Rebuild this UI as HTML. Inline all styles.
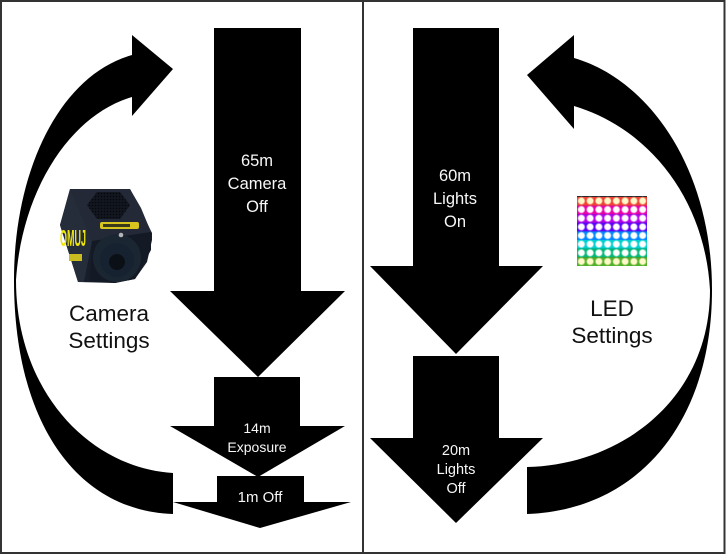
<!DOCTYPE html>
<html>
<head>
<meta charset="utf-8">
<style>
html,body{margin:0;padding:0;background:#fff;width:726px;height:555px;overflow:hidden}
svg{display:block}
text{font-family:"Liberation Sans",sans-serif;text-anchor:middle}
.w{fill:#f7f7f7}
.k{fill:#111;font-size:22.5px}
</style>
</head>
<body>
<svg width="726" height="555" viewBox="0 0 726 555" xmlns="http://www.w3.org/2000/svg">
<defs>
<radialGradient id="glow"><stop offset="0" stop-color="#fff"/><stop offset=".62" stop-color="#fff"/><stop offset=".85" stop-color="#fff" stop-opacity=".3"/><stop offset="1" stop-color="#fff" stop-opacity="0"/></radialGradient>
<pattern id="dots" x="577" y="196.600" width="8.750" height="8.650" patternUnits="userSpaceOnUse">
<circle cx="4.375" cy="4.325" r="4.300" fill="url(#glow)"/>
</pattern>
<pattern id="holes" x="88" y="192" width="3" height="3" patternUnits="userSpaceOnUse">
<circle cx="1.500" cy="1.500" r=".8" fill="#05070b"/>
</pattern>
</defs>
<rect width="726" height="555" fill="#fff"/>
<rect x="1" y="1" width="723.500" height="552" fill="none" stroke="#333" stroke-width="2"/>
<rect x="362" y="0" width="2" height="554" fill="#333"/>

<!-- left curved arrow -->
<path fill="#000" d="M132 35L173 69L132 116L132 97C70 115 22 190 16 280C16 392 90 468 173 473L173 514C78 511 14 424 14 280C14 170 60 75 132 55Z"/>
<!-- right curved arrow -->
<path fill="#000" d="M574 35L527 75L574 129L574 106C648 128 705 198 710 290C710 400 620 465 527 467L527 514C640 510 712 420 712 290C712 170 650 80 574 58Z"/>

<!-- block arrows -->
<polygon fill="#000" points="214,28 301,28 301,291 345,291 258,377 170,291 214,291"/>
<polygon fill="#000" points="214,377 300,377 300,426 345,426 258,477 170,426 214,426"/>
<polygon fill="#000" points="217,476 304,476 304,502 351,502 260,528 173,502 217,502"/>
<polygon fill="#000" points="413,28 499,28 499,266 543,266 456,354 370,266 413,266"/>
<polygon fill="#000" points="413,356 499,356 499,438 543,438 456,523 370,438 413,438"/>

<!-- arrow labels -->
<text class="w" x="257" y="166" font-size="16.500">65m</text>
<text class="w" x="257" y="189" font-size="16.500">Camera</text>
<text class="w" x="257" y="212" font-size="16.500">Off</text>
<text class="w" x="455" y="181" font-size="16.500">60m</text>
<text class="w" x="455" y="204" font-size="16.500">Lights</text>
<text class="w" x="455" y="227" font-size="16.500">On</text>
<text class="w" x="257" y="433" font-size="14">14m</text>
<text class="w" x="257" y="452" font-size="14">Exposure</text>
<text class="w" x="260" y="502" font-size="15">1m Off</text>
<text class="w" x="456" y="455" font-size="14.500">20m</text>
<text class="w" x="456" y="474" font-size="14.500">Lights</text>
<text class="w" x="456" y="493" font-size="14.500">Off</text>

<text class="k" x="109" y="321">Camera</text>
<text class="k" x="109" y="348">Settings</text>
<text class="k" x="612" y="316">LED</text>
<text class="k" x="612" y="343">Settings</text>

<!-- camera picture -->
<polygon fill="#171d29" points="70,189 130,189 152,233 152,240 147,262 135,279 115,283 78,282 60,225"/>
<polygon fill="#232936" points="70,189 130,189 141,208 151,232 92,241 84,225"/>
<polygon fill="#141a25" points="92,241 151,232 151,250 135,279 115,283 90,281"/>
<polygon fill="#252c3a" points="70,189 92,241 84,282 78,282 60,225"/>
<polygon fill="#12161f" points="97,192 120,192 130,205 120,219 97,219 87,205"/>
<rect x="87" y="192" width="43" height="27" fill="url(#holes)" clip-path="polygon(23% 0,77% 0,100% 50%,77% 100%,23% 100%,0 50%)"/>
<circle cx="117" cy="258" r="24" fill="#1a2632"/>
<circle cx="117" cy="260" r="17" fill="#172230"/>
<circle cx="117" cy="262" r="8" fill="#0b1017"/>
<circle cx="121" cy="235" r="2.300" fill="#b5b5b5"/>
<rect x="100" y="222" width="39" height="7" rx="2" fill="#d8c41e"/>
<rect x="103" y="224" width="27" height="3" fill="#3a3a1a"/>
<text x="73" y="246" font-size="23" font-weight="bold" fill="#f0e60e" textLength="26" lengthAdjust="spacingAndGlyphs">OMUJ</text>
<rect x="69" y="254" width="13" height="7" fill="#c8bc20"/>

<!-- LED matrix -->
<rect x="577" y="196" width="70" height="70" fill="#2a2a2a"/>
<rect x="577" y="197" width="70" height="8.600" fill="#ea0030"/>
<rect x="577" y="205.600" width="70" height="8.600" fill="#e800a8"/>
<rect x="577" y="214.200" width="70" height="8.600" fill="#b400f0"/>
<rect x="577" y="222.800" width="70" height="8.600" fill="#5a00ff"/>
<rect x="577" y="231.400" width="70" height="8.600" fill="#0088ff"/>
<rect x="577" y="240" width="70" height="8.600" fill="#00d0d0"/>
<rect x="577" y="248.600" width="70" height="8.600" fill="#00b878"/>
<rect x="577" y="257.200" width="70" height="8.800" fill="#109a20"/>
<rect x="577" y="196" width="70" height="70" fill="url(#dots)"/>
<rect x="577" y="197" width="70" height="8.600" fill="#ffe840" fill-opacity=".28"/>
<rect x="577" y="257.200" width="70" height="8.800" fill="#ffe840" fill-opacity=".28"/>
</svg>
</body>
</html>
